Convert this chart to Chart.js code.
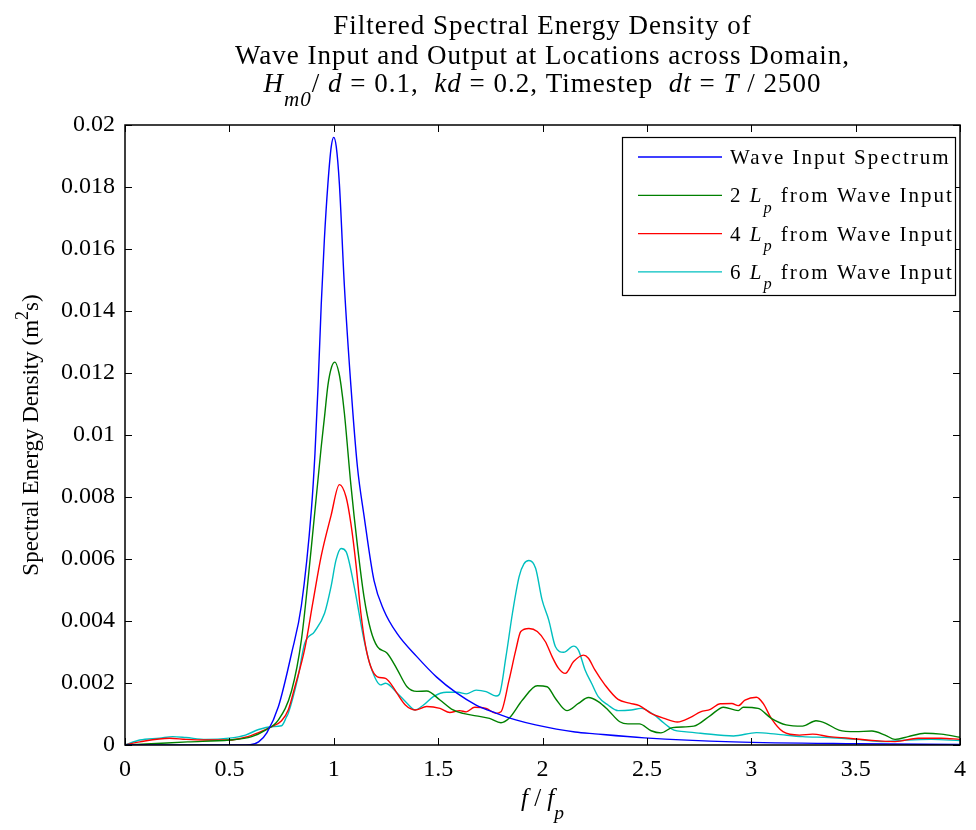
<!DOCTYPE html>
<html>
<head>
<meta charset="utf-8">
<script src="https://cdn.jsdelivr.net/npm/chart.js@4.4.1/dist/chart.umd.min.js"></script>
<style>
  html, body { margin: 0; padding: 0; background: #fff; }
  canvas { display: block; }
</style>
</head>
<body>
<canvas id="spectrum" width="976" height="830"></canvas>
<script>
// ---- data (f/fp, spectral density m^2 s) ----
const inputF = [0, 0.3, 0.55, 0.6, 0.64, 0.68, 0.735, 0.798, 0.845, 0.893, 0.91, 0.925, 0.94, 0.955, 0.972, 0.988, 1.0, 1.012, 1.027, 1.051, 1.082, 1.113, 1.145, 1.193, 1.24, 1.303, 1.398, 1.493, 1.588, 1.682, 1.777, 1.872, 1.967, 2.156, 2.251, 2.488, 2.915, 3.5, 4.0];
const inputS = [0, 0, 0, 0.00001, 0.0001, 0.0004, 0.00124, 0.00296, 0.0045, 0.0076, 0.0094, 0.0116, 0.0142, 0.0163, 0.0181, 0.0193, 0.0196, 0.0193, 0.0181, 0.0148, 0.0116, 0.009, 0.0074, 0.0053, 0.00435, 0.0036, 0.00285, 0.00219, 0.00168, 0.00129, 0.00103, 0.00081, 0.00065, 0.00042, 0.00036, 0.00023, 0.0001, 0.00004, 0.00002];

const lp2F = [0, 0.1, 0.3, 0.5, 0.607, 0.673, 0.735, 0.798, 0.845, 0.893, 0.94, 0.956, 0.972, 0.99, 1.006, 1.025, 1.035, 1.051, 1.082, 1.114, 1.145, 1.177, 1.209, 1.256, 1.303, 1.351, 1.398, 1.445, 1.509, 1.564, 1.619, 1.682, 1.746, 1.801, 1.84, 1.904, 1.975, 2.022, 2.062, 2.117, 2.172, 2.22, 2.267, 2.314, 2.37, 2.409, 2.464, 2.52, 2.567, 2.622, 2.725, 2.804, 2.867, 2.938, 2.962, 3.033, 3.096, 3.167, 3.246, 3.31, 3.357, 3.42, 3.499, 3.578, 3.641, 3.689, 3.752, 3.831, 3.91, 4.0];
const lp2S = [0, 0.00003, 0.0001, 0.00016, 0.00027, 0.00048, 0.00081, 0.00175, 0.00339, 0.0064, 0.00962, 0.0106, 0.0116, 0.0122, 0.01235, 0.012, 0.0116, 0.0107, 0.0084, 0.0064, 0.00478, 0.00371, 0.00317, 0.00296, 0.00245, 0.00188, 0.00173, 0.00174, 0.00145, 0.00116, 0.00102, 0.00094, 0.00086, 0.00072, 0.00086, 0.00145, 0.00191, 0.00188, 0.0015, 0.00111, 0.00134, 0.00153, 0.0014, 0.00113, 0.00075, 0.00068, 0.00068, 0.00046, 0.00039, 0.00056, 0.00061, 0.00095, 0.00122, 0.00111, 0.00122, 0.00118, 0.00086, 0.00065, 0.00061, 0.00078, 0.0007, 0.00048, 0.00043, 0.00045, 0.00032, 0.00018, 0.00027, 0.00038, 0.00035, 0.00025];

const lp4F = [0, 0.071, 0.213, 0.292, 0.387, 0.498, 0.577, 0.64, 0.703, 0.75, 0.782, 0.814, 0.861, 0.9, 0.94, 0.987, 1.027, 1.059, 1.082, 1.106, 1.13, 1.153, 1.177, 1.209, 1.248, 1.272, 1.303, 1.343, 1.39, 1.445, 1.509, 1.556, 1.603, 1.635, 1.675, 1.73, 1.777, 1.801, 1.84, 1.872, 1.896, 1.935, 1.975, 2.014, 2.046, 2.077, 2.109, 2.149, 2.196, 2.22, 2.251, 2.299, 2.362, 2.417, 2.464, 2.52, 2.583, 2.646, 2.709, 2.757, 2.804, 2.851, 2.907, 2.938, 2.97, 3.025, 3.057, 3.096, 3.152, 3.231, 3.294, 3.373, 3.467, 3.594, 3.689, 3.799, 3.91, 4.0];
const lp4S = [0, 0.0001, 0.00022, 0.00018, 0.00016, 0.00016, 0.00025, 0.0004, 0.00059, 0.00078, 0.00113, 0.00188, 0.0031, 0.0046, 0.0061, 0.0074, 0.0084, 0.008, 0.00715, 0.00586, 0.00425, 0.00317, 0.00253, 0.0022, 0.00215, 0.00199, 0.00167, 0.00129, 0.00113, 0.00124, 0.00118, 0.00105, 0.00111, 0.00107, 0.00122, 0.00118, 0.00102, 0.00107, 0.0021, 0.00306, 0.00366, 0.00376, 0.00366, 0.00333, 0.00285, 0.00247, 0.00231, 0.00269, 0.0029, 0.0028, 0.00242, 0.00194, 0.00147, 0.00135, 0.00127, 0.00102, 0.00086, 0.00074, 0.00089, 0.00107, 0.00115, 0.00133, 0.00134, 0.00127, 0.00145, 0.00154, 0.00134, 0.00086, 0.00043, 0.00032, 0.00035, 0.00027, 0.00022, 0.00014, 0.00011, 0.00022, 0.00022, 0.00018];

const lp6F = [0, 0.071, 0.166, 0.229, 0.292, 0.387, 0.498, 0.577, 0.64, 0.703, 0.75, 0.774, 0.782, 0.829, 0.861, 0.908, 0.956, 0.987, 1.011, 1.035, 1.059, 1.098, 1.145, 1.177, 1.224, 1.248, 1.303, 1.351, 1.39, 1.43, 1.477, 1.54, 1.595, 1.635, 1.682, 1.73, 1.777, 1.793, 1.825, 1.856, 1.888, 1.911, 1.935, 1.967, 1.998, 2.03, 2.062, 2.101, 2.149, 2.172, 2.204, 2.235, 2.267, 2.314, 2.362, 2.425, 2.472, 2.535, 2.583, 2.63, 2.678, 2.757, 2.915, 3.025, 3.12, 3.246, 3.373, 3.499, 3.641, 3.752, 3.863, 4.0];
const lp6S = [0, 0.00016, 0.00022, 0.00027, 0.00024, 0.00018, 0.00022, 0.00032, 0.0005, 0.00059, 0.00062, 0.00091, 0.00102, 0.0022, 0.00328, 0.00366, 0.00425, 0.00511, 0.00597, 0.00634, 0.00624, 0.00511, 0.00339, 0.00253, 0.00194, 0.00199, 0.00168, 0.00135, 0.00113, 0.00129, 0.00156, 0.0017, 0.0017, 0.00165, 0.00177, 0.00172, 0.00158, 0.00163, 0.00285, 0.00425, 0.00543, 0.00584, 0.00595, 0.0057, 0.00468, 0.00403, 0.00317, 0.00299, 0.00319, 0.00306, 0.00242, 0.00199, 0.00156, 0.00129, 0.00111, 0.00113, 0.00118, 0.00097, 0.0007, 0.00048, 0.00043, 0.00038, 0.00029, 0.0004, 0.00035, 0.00027, 0.00024, 0.00018, 0.00011, 0.00016, 0.00018, 0.00014];

const xTicks = [0, 0.5, 1, 1.5, 2, 2.5, 3, 3.5, 4];
const yTicks = [0, 0.002, 0.004, 0.006, 0.008, 0.01, 0.012, 0.014, 0.016, 0.018, 0.02];

const seriesNames = ["Wave Input Spectrum", "2", "4", "6"];
const seriesColors = ["#0000ff", "#008000", "#ff0000", "#00bfbf"];

const SERIF = '"Liberation Serif", "Times New Roman", serif';

function pts(fs, ss) {
  return fs.map((f, i) => ({ x: f, y: ss[i] }));
}

// draw a run of text pieces (italic / sub / sup) starting at x
function segFont(s, size) {
  const sz = (s.sub || s.sup) ? size * 0.78 : size;
  return (s.it ? "italic " : "") + sz + "px " + SERIF;
}
function richWidth(ctx, segs, size) {
  let w = 0;
  segs.forEach(s => { ctx.font = segFont(s, size); w += ctx.measureText(s.t).width; });
  return w;
}
function drawRich(ctx, segs, x, y, size, align) {
  let cx = x;
  if (align === "center") cx = x - richWidth(ctx, segs, size) / 2;
  ctx.textAlign = "left";
  ctx.textBaseline = "alphabetic";
  segs.forEach(s => {
    ctx.font = segFont(s, size);
    let dy = 0;
    if (s.sub) dy = size * 0.5;
    if (s.sup) dy = -size * 0.42;
    ctx.fillText(s.t, cx, y + dy);
    cx += ctx.measureText(s.t).width;
  });
}

const framePlugin = {
  id: "matlabFrame",
  afterDraw(chart) {
    const ctx = chart.ctx;
    const a = chart.chartArea;
    const xs = chart.scales.x, ys = chart.scales.y;
    ctx.save();
    ctx.fillStyle = "#000";
    ctx.strokeStyle = "#000";

    // axes box + inward ticks
    ctx.lineWidth = 1.5;
    ctx.strokeRect(a.left, a.top, a.right - a.left, a.bottom - a.top);
    ctx.lineWidth = 1;
    ctx.beginPath();
    xTicks.forEach(v => {
      const px = Math.round(xs.getPixelForValue(v)) + 0.5;
      ctx.moveTo(px, a.bottom); ctx.lineTo(px, a.bottom - 7);
      ctx.moveTo(px, a.top); ctx.lineTo(px, a.top + 7);
    });
    yTicks.forEach(v => {
      const py = Math.round(ys.getPixelForValue(v)) + 0.5;
      ctx.moveTo(a.left, py); ctx.lineTo(a.left + 7, py);
      ctx.moveTo(a.right, py); ctx.lineTo(a.right - 7, py);
    });
    ctx.stroke();

    // title
    const mid = (a.left + a.right) / 2;
    ctx.letterSpacing = "1px";
    drawRich(ctx, [{ t: "Filtered Spectral Energy Density of" }], mid, 34, 27, "center");
    drawRich(ctx, [{ t: "Wave Input and Output at Locations across Domain," }], mid, 64, 27, "center");
    drawRich(ctx, [
      { t: "H", it: true }, { t: "m0", it: true, sub: true }, { t: "/ " }, { t: "d", it: true },
      { t: " = 0.1,  " }, { t: "kd", it: true }, { t: " = 0.2, Timestep  " },
      { t: "dt", it: true }, { t: " = " }, { t: "T", it: true }, { t: " / 2500" }
    ], mid, 92, 27, "center");

    // axis labels
    ctx.letterSpacing = "0px";
    drawRich(ctx, [{ t: "f", it: true }, { t: " / " }, { t: "f", it: true }, { t: "p", it: true, sub: true }],
      mid, 806, 25, "center");
    ctx.save();
    ctx.translate(38, (a.top + a.bottom) / 2);
    ctx.rotate(-Math.PI / 2);
    drawRich(ctx, [{ t: "Spectral Energy Density (m" }, { t: "2", sup: true }, { t: "s)" }], 0, 0, 23, "center");
    ctx.restore();

    // legend box
    const lx = 622, ly = 137, lw = 333, lh = 158;
    ctx.fillStyle = "#fff";
    ctx.fillRect(lx, ly, lw, lh);
    ctx.lineWidth = 1.2;
    ctx.strokeRect(lx + 0.5, ly + 0.5, lw, lh);
    ctx.letterSpacing = "2px";
    chart.data.datasets.forEach((ds, i) => {
      const ry = 157 + i * 38.3;
      ctx.strokeStyle = ds.borderColor;
      ctx.lineWidth = 1.3;
      ctx.beginPath();
      ctx.moveTo(638, ry); ctx.lineTo(722, ry);
      ctx.stroke();
      ctx.fillStyle = "#000";
      const segs = i === 0
        ? [{ t: seriesNames[0] }]
        : [{ t: seriesNames[i] + " " }, { t: "L", it: true }, { t: "p", it: true, sub: true }, { t: " from Wave Input" }];
      drawRich(ctx, segs, 730, ry + 7, 21, "left");
    });
    ctx.restore();
  }
};

const datasets = [
  [inputF, inputS], [lp2F, lp2S], [lp4F, lp4S], [lp6F, lp6S]
].map((pair, i) => ({
  label: seriesNames[i],
  data: pts(pair[0], pair[1]),
  borderColor: seriesColors[i],
  borderWidth: 1.4,
  pointRadius: 0,
  fill: false,
  cubicInterpolationMode: "monotone"
}));

new Chart(document.getElementById("spectrum"), {
  type: "line",
  data: { datasets: datasets },
  options: {
    responsive: false,
    animation: false,
    devicePixelRatio: 1,
    layout: { padding: { top: 125, right: 7, left: 0, bottom: 0 } },
    plugins: { legend: { display: false }, tooltip: { enabled: false }, title: { display: false } },
    scales: {
      x: {
        type: "linear",
        min: 0, max: 4,
        afterBuildTicks: s => { s.ticks = xTicks.map(v => ({ value: v })); },
        afterFit: s => { s.height = 85; },
        grid: { display: false, drawTicks: false },
        border: { display: false },
        ticks: {
          padding: 10,
          color: "#000",
          font: { family: SERIF, size: 24 },
          maxRotation: 0,
          callback: v => String(Math.round(v * 1000) / 1000)
        }
      },
      y: {
        type: "linear",
        min: 0, max: 0.02,
        afterBuildTicks: s => { s.ticks = yTicks.map(v => ({ value: v })); },
        afterFit: s => { s.width = 125; },
        grid: { display: false, drawTicks: false },
        border: { display: false },
        ticks: {
          padding: 10,
          color: "#000",
          font: { family: SERIF, size: 24 },
          callback: v => String(Math.round(v * 10000) / 10000)
        }
      }
    }
  },
  plugins: [framePlugin]
});
</script>
</body>
</html>
